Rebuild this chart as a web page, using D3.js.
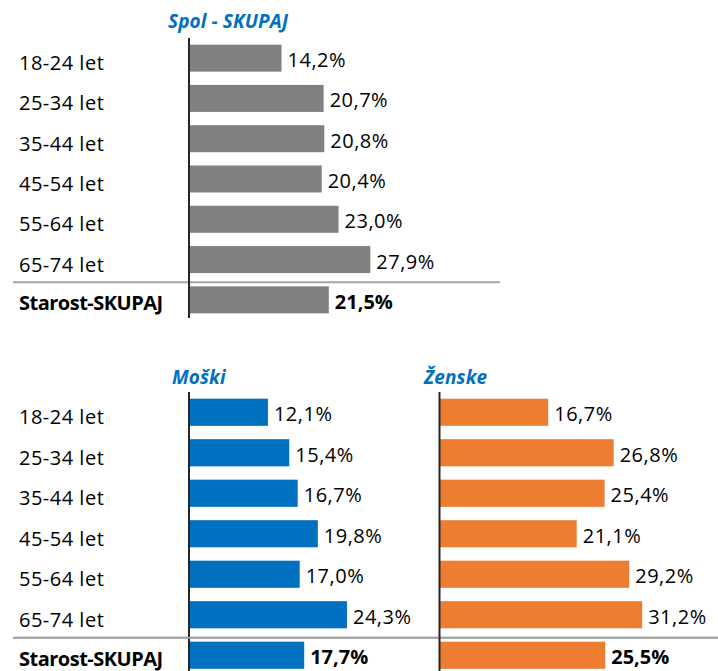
<!DOCTYPE html>
<html>
<head>
<meta charset="utf-8">
<script src="https://cdn.jsdelivr.net/npm/d3@7"></script>
<style>
  html, body { margin: 0; padding: 0; background: #fff; }
  svg { display: block; }
  text { font-family: "Open Sans", "Lato", sans-serif; }
</style>
</head>
<body>
<svg id="chart" width="718" height="671"></svg>
<script>
const categories = ["18-24 let", "25-34 let", "35-44 let", "45-54 let", "55-64 let", "65-74 let", "Starost-SKUPAJ"];
const totalValues = [14.2, 20.7, 20.8, 20.4, 23.0, 27.9, 21.5];
const maleValues = [12.1, 15.4, 16.7, 19.8, 17.0, 24.3, 17.7];
const femaleValues = [16.7, 26.8, 25.4, 21.1, 29.2, 31.2, 25.5];
const panelTitles = ["Spol - SKUPAJ", "Moški", "Ženske"];

const svg = d3.select("#chart");
const fmt = v => v.toFixed(1).replace(".", ",") + "%";
const PX_PER_UNIT = 6.48;
const DOMAIN_MAX = 35;

function drawPanel(opts) {
  const { values, color, x0, yTop, yBottom, lineBottom, title, titleX, titleY, showLabels, sepX0, sepX1 } = opts;
  const y = d3.scaleBand().domain(categories).range([yTop, yBottom]).paddingInner(0.33).paddingOuter(0.165);
  const x = d3.scaleLinear().domain([0, DOMAIN_MAX]).range([x0, x0 + DOMAIN_MAX * PX_PER_UNIT]);
  const g = svg.append("g");
  const last = categories[categories.length - 1];

  if (showLabels) {
    g.selectAll("text.cat").data(categories).join("text")
      .attr("class", "cat")
      .attr("x", 19)
      .attr("y", d => y(d) + y.bandwidth() / 2 + (d === last ? 3 : 4.5))
      .attr("dominant-baseline", "central")
      .attr("font-size", 20)
      .attr("font-weight", d => d === last ? 700 : 400)
      .attr("letter-spacing", d => d === last ? -0.5 : 0.5)
      .attr("fill", "#000")
      .text(d => d);
  }

  // separator line
  g.append("line")
    .attr("x1", sepX0).attr("x2", sepX1)
    .attr("y1", y(last) - 4).attr("y2", y(last) - 4)
    .attr("stroke", "#a6a6a6").attr("stroke-width", 2);

  g.selectAll("rect.bar").data(categories).join("rect")
    .attr("class", "bar")
    .attr("x", x(0))
    .attr("y", d => y(d))
    .attr("width", (d, i) => x(values[i]) - x(0))
    .attr("height", y.bandwidth())
    .attr("fill", color);

  g.selectAll("text.val").data(categories).join("text")
    .attr("class", "val")
    .attr("x", (d, i) => x(values[i]) + 6)
    .attr("y", d => y(d) + y.bandwidth() / 2 + 1.5)
    .attr("dominant-baseline", "central")
    .attr("font-size", 20)
    .attr("font-weight", d => d === last ? 700 : 400)
    .attr("letter-spacing", d => d === last ? 0 : 0.5)
    .attr("fill", "#000")
    .text((d, i) => fmt(values[i]));

  // vertical axis line
  g.append("line")
    .attr("x1", x(0) - 0.5).attr("x2", x(0) - 0.5)
    .attr("y1", yTop).attr("y2", lineBottom)
    .attr("stroke", "#262626").attr("stroke-width", 2);

  g.append("text")
    .attr("x", titleX).attr("y", titleY)
    .attr("font-size", 19)
    .attr("font-weight", 700)
    .attr("font-style", "italic")
    .attr("letter-spacing", 0.1)
    .attr("fill", "#0070c0")
    .text(title);
}

drawPanel({ values: totalValues, color: "#808080", x0: 189.5, yTop: 38, yBottom: 320, lineBottom: 318,
  title: panelTitles[0], titleX: 168, titleY: 28, showLabels: true, sepX0: 13, sepX1: 500 });
drawPanel({ values: maleValues, color: "#0070c0", x0: 189.5, yTop: 392, yBottom: 675.5, lineBottom: 671,
  title: panelTitles[1], titleX: 172, titleY: 384, showLabels: true, sepX0: 13, sepX1: 718 });
drawPanel({ values: femaleValues, color: "#ed7d31", x0: 440, yTop: 392, yBottom: 675.5, lineBottom: 671,
  title: panelTitles[2], titleX: 424, titleY: 384, showLabels: false, sepX0: 13, sepX1: 718 });
</script>
</body>
</html>
